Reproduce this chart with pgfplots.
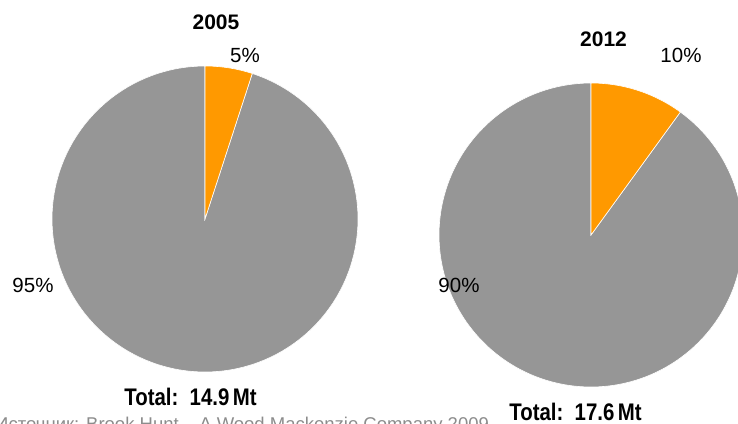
\documentclass[border=0pt]{standalone}
\usepackage{pgfplots}
\pgfplotsset{compat=1.18}
\usepackage{fontspec}
\setmainfont{Liberation Sans}
\usepackage{graphicx}
\definecolor{pieorange}{HTML}{FF9900}
\definecolor{piegray}{HTML}{969696}
\definecolor{srcgray}{HTML}{8C8C8C}
% data: share of orange segment (%) for each year
\def\shareA{5}   % 2005
\def\shareB{10}  % 2012
\pgfmathsetmacro{\angA}{90-3.6*\shareA}
\pgfmathsetmacro{\angAg}{\angA+360}
\pgfmathsetmacro{\angB}{90-3.6*\shareB}
\pgfmathsetmacro{\angBg}{\angB+360}
\begin{document}
\begin{tikzpicture}
\begin{axis}[
  width=738pt, height=423pt, scale only axis,
  xmin=0, xmax=738, ymin=0, ymax=423,
  axis lines=none, clip=true,
]
% 2005 pie
\addplot[fill=piegray, draw=white, line width=0.6pt, domain=90:\angAg, samples=180, variable=\t]
  ({205+153*cos(\t)},{204+153*sin(\t)}) -- (axis cs:205,204) -- cycle;
\addplot[fill=pieorange, draw=white, line width=0.6pt, domain=\angA:90, samples=20, variable=\t]
  ({205+153*cos(\t)},{204+153*sin(\t)}) -- (axis cs:205,204) -- cycle;
% 2012 pie
\addplot[fill=piegray, draw=white, line width=0.6pt, domain=90:\angBg, samples=180, variable=\t]
  ({591+152*cos(\t)},{188+152*sin(\t)}) -- (axis cs:591,188) -- cycle;
\addplot[fill=pieorange, draw=white, line width=0.6pt, domain=\angB:90, samples=30, variable=\t]
  ({591+152*cos(\t)},{188+152*sin(\t)}) -- (axis cs:591,188) -- cycle;
\end{axis}
% labels (positions in the same pixel grid as the axis)
\begin{scope}[x=1pt,y=1pt]
\node[font=\fontsize{21}{21}\selectfont\bfseries] at (216,400.5) {2005};
\node[font=\fontsize{21}{21}\selectfont\bfseries] at (603.5,383.5) {2012};
\node[font=\fontsize{20.5}{20.5}\selectfont] at (245,368) {5\%};
\node[font=\fontsize{20.5}{20.5}\selectfont] at (681,368) {10\%};
\node[font=\fontsize{20.5}{20.5}\selectfont] at (33,138) {95\%};
\node[font=\fontsize{20.5}{20.5}\selectfont] at (459,138) {90\%};
\node at (190.5,26) {\scalebox{0.85}[1]{\fontsize{24}{24}\selectfont\bfseries Total:~~14.9\,Mt}};
\node at (575.5,11.5) {\scalebox{0.85}[1]{\fontsize{24}{24}\selectfont\bfseries Total:~~17.6\,Mt}};
\node[anchor=base west, inner sep=0pt, text=srcgray, font=\fontsize{18.5}{18.5}\selectfont] at (-5,-7) {Источник: Brook Hunt – A Wood Mackenzie Company 2009};
\end{scope}
\pgfresetboundingbox
\path[use as bounding box] (0,0) rectangle (738pt,423pt);
\end{tikzpicture}
\end{document}
